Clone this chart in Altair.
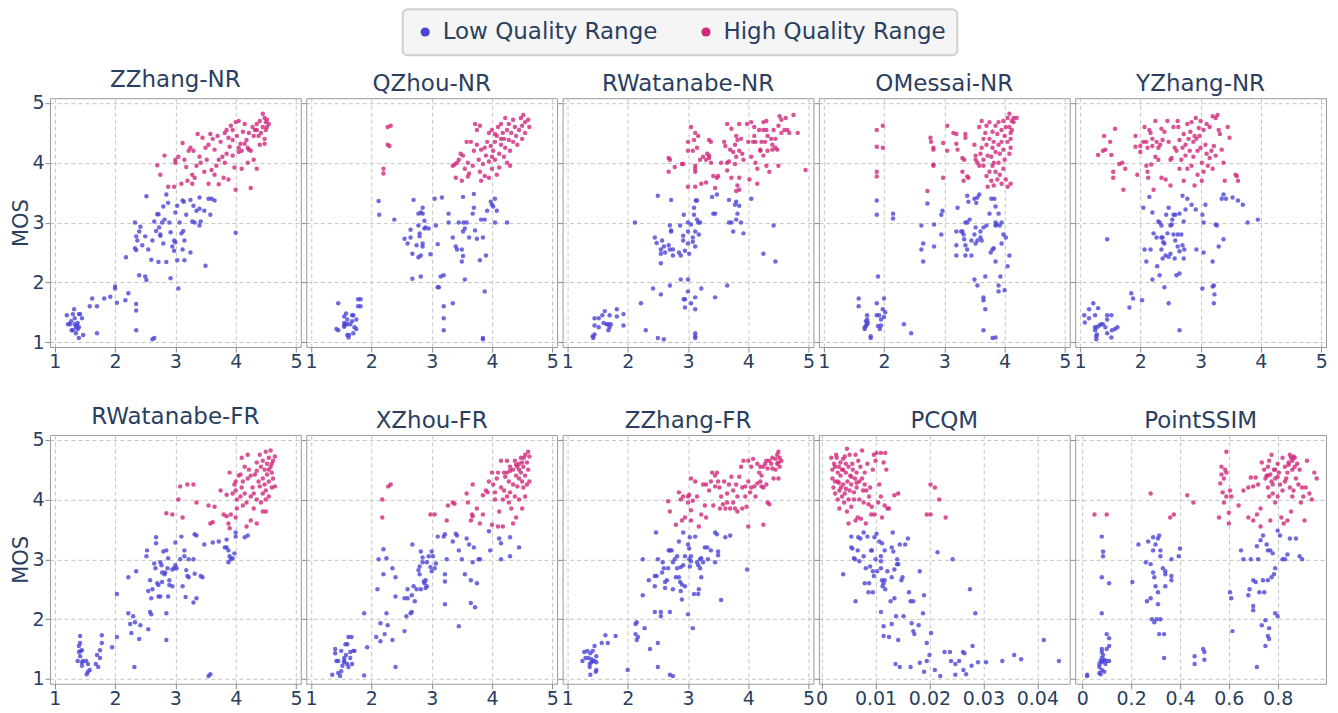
import altair as alt
import pandas as pd

LOW_LABEL = "Low Quality Range"
HIGH_LABEL = "High Quality Range"
BLUE = "#4B45D6"
PINK = "#D0287C"
TEXT = "#2a3f5f"
FONT = "DejaVu Sans"

MOS_TICKS = [1, 2, 3, 4, 5]
SCORE_TICKS = [1, 2, 3, 4, 5]
PCQM_TICKS = [0, 0.01, 0.02, 0.03, 0.04]
SSIM_TICKS = [0, 0.2, 0.4, 0.6, 0.8]

# ---------------- ZZhang-NR ----------------
ZZHANG_NR_LOW = [(1.2,1.45),(1.25,1.3),(1.27,1.35),(1.3,1.47),(1.32,1.55),(1.3,1.2),(1.33,1.3),(1.35,1.25),(1.37,1.28),(1.38,1.22),(1.4,1.47),(1.42,1.47),(1.45,1.4),(1.35,1.15),(1.4,1.07),(1.47,1.12),(1.28,1.2),(1.22,1.3),(1.33,1.4),(1.38,1.32),(1.4,1.25),
 (1.58,1.6),(1.62,1.73),(1.7,1.6),(1.7,1.15),(1.82,1.73),(1.92,1.76),(2.0,1.9),(2.0,1.93),(2.03,1.66),(2.17,1.7),(2.22,1.82),(2.35,1.64),(2.35,1.53),(2.35,1.2),(2.62,1.05),(2.65,1.07),(2.4,2.12),(2.5,2.1),(2.52,2.04),(2.18,2.42),(2.33,3.0),(2.35,2.77),(2.37,2.7),(2.33,2.57),(2.35,2.54),(2.4,2.85),(2.42,2.93),(2.45,2.62),(2.5,2.77),(2.52,3.44),(2.55,2.55),(2.6,2.38),(2.62,2.7),(2.65,3.02),(2.68,2.86),(2.7,3.14),(2.72,3.14),(2.73,2.92),(2.75,2.8),(2.75,2.78),(2.72,2.34),(2.8,3.27),(2.78,3.0),(2.8,2.65),(2.82,3.05),(2.85,2.34),(2.85,3.47),(2.88,3.33),(2.9,3.0),(2.92,2.07),(2.92,2.84),(2.95,2.6),(2.98,2.7),(2.98,2.53),(3.0,2.67),(3.0,3.17),(3.03,2.37),(3.03,3.28),(3.05,1.9),(3.07,3.0),(3.1,2.82),(3.12,3.37),(3.12,2.55),(3.14,3.35),(3.15,2.7),(3.15,2.37),(3.13,2.86),(3.18,3.13),(3.25,2.5),(3.25,3.38),(3.28,3.02),(3.3,3.28),(3.32,3.0),(3.35,3.2),(3.4,3.42),(3.4,3.23),(3.4,2.95),(3.42,3.02),(3.48,3.2),(3.5,2.28),(3.55,3.4),(3.58,3.13),(3.6,3.4),(3.65,3.37),(4.0,2.83)]
ZZHANG_NR_HIGH = [(2.7,3.96),(2.75,3.8),(2.82,4.12),(2.88,3.6),(2.98,3.6),(3.0,4.0),(3.0,4.05),(3.05,4.1),(3.1,3.65),(3.12,4.33),(3.15,4.05),(3.18,3.93),(3.2,3.7),(3.22,4.2),(3.25,4.25),(3.28,3.8),(3.3,4.2),(3.28,3.65),(3.32,3.75),(3.35,3.95),(3.37,4.48),(3.4,4.1),(3.42,4.0),(3.45,4.42),(3.48,3.85),(3.5,4.25),(3.52,4.05),(3.55,3.65),(3.55,4.3),(3.58,4.48),(3.6,3.88),(3.62,4.4),(3.65,3.8),(3.65,4.22),(3.68,3.95),(3.7,4.45),(3.72,4.05),(3.72,3.64),(3.75,4.35),(3.78,4.1),(3.8,3.75),(3.82,4.5),(3.82,4.0),(3.85,4.15),(3.88,3.72),(3.88,4.42),(3.9,4.27),(3.92,4.62),(3.95,4.38),(3.95,4.12),(3.98,3.92),(4.0,4.68),(4.0,3.55),(4.02,4.45),(4.05,4.18),(4.05,4.7),(4.08,4.32),(4.1,4.2),(4.1,3.9),(4.12,4.52),(4.15,4.65),(4.18,4.38),(4.2,4.25),(4.22,4.22),(4.22,4.5),(4.25,4.2),(4.25,3.58),(4.28,4.6),(4.3,4.45),(4.3,4.05),(4.32,4.55),(4.35,4.65),(4.35,3.9),(4.38,4.45),(4.4,4.7),(4.42,4.5),(4.45,4.82),(4.45,4.6),(4.48,4.75),(4.5,4.55),(4.5,4.68),(4.52,4.72),(4.52,4.6),(4.48,4.32),(4.55,4.65),(4.4,4.3),(4.2,4.0),(4.15,4.32),(4.05,4.25),(3.95,4.55),(3.85,4.55),(4.48,4.4),(4.35,4.55)]

# ---------------- QZhou-NR ----------------
QZHOU_NR_LOW = [(1.45,1.65),(1.42,1.22),(1.45,1.2),(1.55,1.43),(1.55,1.32),(1.57,1.3),(1.58,1.48),(1.55,1.28),(1.6,1.3),(1.6,1.38),(1.62,1.08),(1.63,1.12),(1.65,1.3),(1.68,1.35),(1.7,1.45),(1.7,1.15),(1.72,1.25),(1.75,1.22),(1.75,1.38),(1.78,1.72),(1.82,1.72),(1.78,1.6),(1.82,1.6),(1.68,1.45),(1.6,1.12),(1.55,1.26),
 (2.12,3.36),(2.13,3.13),(2.38,3.05),(2.55,2.73),(2.6,2.65),(2.65,2.88),(2.65,2.75),(2.68,2.48),(2.68,2.06),(2.7,3.38),(2.75,2.62),(2.78,2.95),(2.78,3.15),(2.78,2.42),(2.8,2.77),(2.8,2.82),(2.82,3.17),(2.82,2.1),(2.82,2.45),(2.85,3.25),(2.85,3.15),(2.85,2.65),(2.85,2.6),(2.88,3.03),(2.88,2.9),(2.9,2.92),(2.95,2.9),(2.98,2.47),(3.05,3.4),(3.07,2.95),(3.1,2.64),(3.1,1.92),(3.12,1.92),(3.15,2.1),(3.17,3.42),(3.2,2.12),(3.2,1.6),(3.2,1.4),(3.2,1.2),(3.28,3.15),(3.28,3.0),(3.35,1.65),(3.35,2.75),(3.4,2.6),(3.42,2.55),(3.45,3.0),(3.5,2.55),(3.5,2.35),(3.52,2.85),(3.52,2.44),(3.52,3.43),(3.53,3.0),(3.55,2.9),(3.55,2.05),(3.58,3.0),(3.62,2.75),(3.68,3.15),(3.7,3.48),(3.7,3.25),(3.72,2.87),(3.75,2.73),(3.8,2.37),(3.82,3.05),(3.85,2.75),(3.85,1.05),(3.85,1.07),(3.88,1.85),(3.88,3.05),(3.9,2.45),(3.92,3.2),(3.98,3.35),(4.0,3.3),(4.02,3.27),(4.05,3.0),(4.05,3.4),(4.08,3.2),(4.25,3.0)]
QZHOU_NR_HIGH = [(2.27,4.6),(2.32,4.62),(2.27,4.3),(2.3,4.28),(2.2,3.9),(2.2,3.82),(3.35,3.95),(3.38,3.97),(3.4,3.75),(3.42,4.0),(3.45,4.05),(3.48,4.15),(3.5,3.7),(3.52,4.12),(3.55,3.9),(3.58,4.35),(3.6,4.0),(3.6,3.77),(3.62,3.82),(3.65,4.35),(3.68,3.95),(3.7,4.2),(3.72,4.65),(3.75,4.55),(3.75,4.3),(3.78,4.05),(3.8,3.85),(3.8,4.62),(3.82,4.22),(3.82,3.7),(3.85,3.98),(3.88,4.25),(3.88,3.78),(3.9,4.12),(3.92,4.35),(3.95,4.02),(3.95,3.75),(3.98,4.28),(4.0,3.9),(4.0,4.55),(4.02,4.2),(4.05,4.35),(4.05,4.05),(4.08,3.8),(4.08,4.45),(4.1,4.6),(4.12,4.15),(4.12,3.92),(4.15,4.65),(4.15,4.3),(4.18,4.5),(4.2,4.1),(4.2,4.4),(4.22,4.75),(4.22,4.25),(4.25,4.55),(4.25,4.0),(4.28,4.38),(4.28,4.65),(4.3,3.95),(4.3,4.2),(4.32,4.5),(4.35,4.72),(4.35,4.35),(4.38,4.6),(4.4,4.45),(4.42,4.3),(4.45,4.55),(4.48,4.75),(4.5,4.62),(4.5,4.4),(4.52,4.8),(4.55,4.5),(4.55,4.68),(4.6,4.72),(4.62,4.6),(4.0,4.1),(4.15,4.4),(3.95,4.5),(4.05,4.48)]

# ---------------- RWatanabe-NR ----------------
RWATANABE_NR_LOW = [(1.42,1.1),(1.43,1.07),(1.45,1.13),(1.45,1.4),(1.45,1.28),(1.52,1.25),(1.52,1.4),(1.58,1.45),(1.6,1.32),(1.62,1.52),(1.65,1.3),(1.68,1.3),(1.7,1.25),(1.7,1.45),(1.68,1.2),(1.72,1.3),(1.82,1.43),(1.82,1.55),(1.93,1.47),(1.93,1.28),(2.22,1.65),(2.3,1.2),(2.5,1.07),(2.6,1.05),(2.12,3.0),(2.42,1.9),(2.45,2.75),(2.48,2.66),(2.5,3.45),(2.55,2.55),(2.57,2.7),(2.6,2.6),(2.62,2.5),(2.55,2.32),(2.55,2.48),(2.55,1.8),(2.68,2.62),(2.7,2.55),(2.7,2.95),(2.72,2.87),(2.72,2.85),(2.75,2.55),(2.75,2.45),(2.7,1.95),(2.72,3.38),(2.85,2.5),(2.87,2.95),(2.88,2.45),(2.88,2.05),(2.92,2.7),(2.92,2.78),(2.93,3.13),(2.95,2.53),(2.93,1.72),(2.95,1.72),(2.95,1.58),(3.0,3.0),(3.0,2.85),(3.0,2.65),(3.02,2.48),(3.0,2.05),(3.0,1.85),(3.05,2.97),(3.05,1.65),(3.08,2.68),(3.08,2.75),(3.1,3.25),(3.1,3.13),(3.12,2.85),(3.12,2.6),(3.13,3.37),(3.12,1.1),(3.12,1.07),(3.12,1.15),(3.12,1.75),(3.12,1.55),(3.15,3.05),(3.15,3.37),(3.17,3.0),(3.18,2.8),(3.2,3.0),(3.22,1.9),(3.4,3.43),(3.42,3.15),(3.45,3.15),(3.45,1.75),(3.48,3.47),(3.65,1.95),(3.68,3.0),(3.68,3.38),(3.72,3.0),(3.75,2.85),(3.78,3.3),(3.8,3.35),(3.8,3.05),(3.82,3.15),(3.85,3.28),(3.88,3.0),(3.92,2.82),(4.05,3.4),(4.25,2.48),(4.42,2.95),(4.45,2.35)]
RWATANABE_NR_HIGH = [(2.68,4.08),(2.7,4.05),(2.68,3.85),(2.78,3.93),(2.9,3.98),(2.92,3.98),(3.0,4.2),(3.0,4.35),(3.0,3.6),(3.05,4.6),(3.08,4.2),(3.1,4.38),(3.12,3.95),(3.12,3.9),(3.12,3.85),(3.12,3.6),(3.12,4.5),(3.15,4.25),(3.17,4.45),(3.2,4.05),(3.22,3.65),(3.25,4.1),(3.3,4.05),(3.3,3.67),(3.32,4.15),(3.35,4.08),(3.35,4.38),(3.35,4.12),(3.38,4.35),(3.38,4.0),(3.42,3.78),(3.45,3.58),(3.48,3.75),(3.5,3.78),(3.55,4.0),(3.6,4.35),(3.62,4.28),(3.65,4.65),(3.65,4.0),(3.65,3.87),(3.68,4.02),(3.7,4.22),(3.72,3.75),(3.72,4.57),(3.75,4.18),(3.78,4.3),(3.78,3.98),(3.8,4.45),(3.8,4.1),(3.8,3.53),(3.82,3.62),(3.82,4.38),(3.85,4.2),(3.85,3.75),(3.85,3.55),(3.85,4.65),(3.88,4.4),(3.9,4.15),(3.92,4.05),(3.98,4.65),(4.0,4.35),(4.02,3.72),(4.05,4.68),(4.05,4.1),(4.08,4.35),(4.1,4.6),(4.12,4.0),(4.12,4.35),(4.15,3.9),(4.15,3.65),(4.18,4.55),(4.2,4.2),(4.2,4.22),(4.22,4.35),(4.25,4.55),(4.25,4.68),(4.25,4.12),(4.28,4.35),(4.3,3.95),(4.3,4.7),(4.32,4.45),(4.32,4.2),(4.35,3.85),(4.38,4.4),(4.4,4.22),(4.4,4.3),(4.42,4.55),(4.45,4.4),(4.48,4.22),(4.5,4.62),(4.5,3.95),(4.52,4.78),(4.55,4.5),(4.55,4.72),(4.6,4.55),(4.62,4.75),(4.65,4.55),(4.68,4.5),(4.75,4.8),(4.82,4.5),(4.95,3.88),(4.1,4.45),(4.3,4.55),(4.45,4.25)]

# ---------------- OMessai-NR ----------------
OMESSAI_NR_LOW = [(1.58,1.73),(1.58,1.6),(1.68,1.25),(1.68,1.22),(1.7,1.35),(1.7,1.27),(1.72,1.3),(1.72,1.45),(1.72,1.38),(1.73,1.33),(1.78,1.1),(1.78,1.07),(1.88,1.65),(1.88,1.45),(1.9,1.27),(1.9,2.1),(1.92,1.45),(1.93,1.22),(1.95,1.28),(1.95,1.38),(1.98,1.55),(2.0,1.73),(2.0,1.42),(2.02,1.5),(1.88,3.13),(1.88,3.37),(2.15,3.15),(2.15,3.07),(2.33,1.3),(2.45,1.15),(2.62,2.95),(2.65,2.65),(2.62,2.55),(2.65,2.35),(2.72,3.32),(2.83,2.97),(2.83,2.6),(2.95,3.13),(2.97,3.2),(2.95,2.8),(3.2,2.85),(3.2,2.62),(3.2,2.45),(3.22,3.25),(3.28,2.85),(3.3,2.85),(3.32,2.8),(3.33,2.72),(3.35,3.0),(3.35,2.62),(3.35,2.45),(3.38,3.0),(3.38,3.45),(3.38,2.55),(3.4,3.35),(3.42,3.05),(3.45,2.7),(3.45,2.45),(3.5,3.4),(3.5,2.8),(3.5,2.05),(3.52,2.65),(3.52,2.92),(3.53,3.33),(3.55,2.7),(3.55,1.95),(3.55,3.42),(3.58,3.47),(3.6,2.75),(3.6,2.85),(3.62,2.7),(3.65,2.92),(3.65,1.75),(3.65,1.7),(3.65,1.2),(3.68,2.1),(3.68,1.55),(3.75,3.15),(3.77,2.5),(3.78,3.4),(3.8,2.55),(3.8,1.07),(3.82,2.57),(3.83,3.4),(3.85,3.0),(3.85,2.95),(3.85,2.35),(3.85,1.08),(3.85,3.27),(3.87,2.97),(3.9,3.15),(3.9,1.95),(3.9,1.85),(3.92,2.95),(3.93,2.1),(3.95,3.0),(3.95,2.65),(3.98,2.8),(4.0,1.87),(4.02,2.75),(4.05,2.27),(4.08,2.45),(3.7,2.95)]
OMESSAI_NR_HIGH = [(1.88,4.55),(1.88,4.27),(1.88,3.85),(1.88,3.77),(1.98,4.62),(1.98,4.25),(2.72,3.53),(2.77,4.42),(2.78,4.35),(2.82,4.22),(2.82,4.25),(2.82,3.95),(2.82,3.97),(2.98,3.75),(2.98,4.33),(3.05,4.62),(3.05,4.2),(3.15,4.5),(3.2,4.32),(3.2,4.48),(3.22,4.22),(3.3,4.08),(3.3,3.85),(3.32,3.7),(3.33,4.05),(3.35,4.48),(3.35,4.42),(3.38,3.77),(3.4,3.75),(3.5,4.3),(3.52,4.12),(3.52,4.05),(3.55,4.0),(3.58,4.6),(3.58,3.95),(3.6,4.15),(3.62,4.7),(3.62,4.25),(3.65,4.4),(3.65,4.05),(3.65,3.95),(3.68,4.5),(3.7,4.62),(3.7,4.3),(3.7,3.78),(3.72,4.12),(3.72,3.6),(3.75,4.4),(3.75,4.68),(3.75,3.85),(3.78,4.1),(3.78,3.7),(3.8,4.52),(3.8,4.25),(3.8,3.95),(3.82,4.35),(3.82,4.0),(3.82,3.62),(3.85,4.62),(3.85,4.18),(3.85,3.85),(3.88,4.48),(3.88,3.72),(3.9,4.68),(3.9,4.3),(3.9,4.0),(3.92,4.15),(3.92,3.8),(3.95,4.55),(3.95,4.35),(3.95,3.65),(3.98,4.7),(3.98,4.22),(3.98,3.9),(4.0,4.45),(4.0,4.05),(4.02,3.72),(4.02,4.6),(4.05,4.75),(4.05,4.35),(4.05,3.6),(4.08,4.6),(4.08,4.82),(4.08,4.15),(4.1,4.5),(4.1,3.65),(4.12,4.7),(4.12,4.55),(4.15,4.68),(4.15,4.75),(4.2,4.75),(4.1,4.4),(4.1,4.25)]

# ---------------- YZhang-NR ----------------
YZHANG_NR_LOW = [(1.07,1.45),(1.08,1.33),(1.15,1.55),(1.15,1.4),(1.22,1.65),(1.25,1.45),(1.25,1.25),(1.25,1.2),(1.27,1.05),(1.27,1.1),(1.28,1.13),(1.28,1.25),(1.3,1.57),(1.32,1.28),(1.35,1.3),(1.38,1.3),(1.42,1.25),(1.45,1.45),(1.45,1.38),(1.45,1.15),(1.45,2.72),(1.52,1.45),(1.52,1.08),(1.53,1.2),(1.58,1.22),(1.62,1.25),(1.82,1.58),(1.85,1.82),(1.88,1.73),(2.03,1.7),(2.05,3.25),(2.07,2.55),(2.1,2.35),(2.15,3.43),(2.17,2.55),(2.2,2.05),(2.2,3.17),(2.22,2.82),(2.27,2.75),(2.28,2.27),(2.3,3.02),(2.32,3.0),(2.32,2.12),(2.35,2.75),(2.35,2.95),(2.35,2.55),(2.37,2.75),(2.37,2.4),(2.38,2.67),(2.4,2.65),(2.4,1.92),(2.42,2.45),(2.43,3.13),(2.45,2.82),(2.47,3.25),(2.47,2.43),(2.47,1.65),(2.5,2.95),(2.5,2.48),(2.52,2.97),(2.53,3.05),(2.55,3.13),(2.55,2.8),(2.57,2.4),(2.58,2.7),(2.58,3.13),(2.6,2.12),(2.62,2.8),(2.62,2.6),(2.65,3.15),(2.65,2.52),(2.65,2.15),(2.65,1.2),(2.68,2.8),(2.7,3.45),(2.7,2.62),(2.72,3.02),(2.72,2.4),(2.73,2.55),(2.75,3.22),(2.78,3.4),(2.85,3.3),(2.92,3.22),(2.93,2.55),(3.03,3.13),(3.05,3.0),(3.05,2.5),(3.03,1.9),(3.08,3.3),(3.2,2.35),(3.2,1.93),(3.22,1.65),(3.22,1.95),(3.23,1.8),(3.25,2.97),(3.27,2.95),(3.3,2.6),(3.38,3.47),(3.38,2.72),(3.35,3.4),(3.42,3.4),(3.53,3.42),(3.62,3.37),(3.7,3.3),(3.78,3.0),(3.95,3.05)]
YZHANG_NR_HIGH = [(1.3,4.13),(1.38,4.2),(1.4,4.45),(1.42,4.22),(1.5,4.35),(1.52,4.13),(1.55,3.85),(1.55,3.75),(1.58,4.57),(1.65,3.98),(1.7,4.0),(1.72,3.55),(1.75,3.9),(1.92,4.45),(1.92,4.27),(1.95,3.8),(2.0,4.28),(2.0,4.18),(2.05,4.35),(2.07,4.6),(2.1,4.35),(2.1,3.95),(2.12,4.25),(2.12,3.85),(2.13,3.75),(2.15,4.55),(2.17,4.5),(2.18,3.97),(2.2,4.4),(2.2,4.28),(2.22,3.55),(2.25,4.7),(2.25,4.1),(2.27,4.35),(2.3,4.25),(2.3,4.05),(2.33,4.3),(2.35,4.57),(2.35,3.75),(2.37,4.38),(2.4,4.52),(2.42,3.72),(2.45,4.7),(2.47,4.35),(2.5,4.05),(2.5,3.62),(2.52,4.08),(2.55,4.6),(2.57,4.25),(2.6,4.2),(2.62,4.7),(2.63,4.6),(2.65,4.38),(2.65,3.9),(2.68,4.05),(2.7,4.25),(2.72,4.48),(2.72,3.7),(2.75,4.3),(2.75,4.12),(2.78,4.65),(2.78,3.9),(2.8,4.4),(2.82,4.2),(2.83,4.52),(2.85,4.68),(2.85,3.95),(2.88,4.35),(2.88,4.1),(2.9,4.45),(2.9,3.62),(2.92,4.75),(2.93,4.4),(2.95,4.2),(2.95,3.8),(2.97,4.58),(2.98,4.45),(3.0,4.7),(3.0,4.25),(3.02,4.0),(3.02,3.7),(3.05,4.55),(3.05,3.85),(3.08,4.3),(3.1,4.65),(3.1,4.15),(3.12,3.95),(3.15,4.6),(3.15,4.08),(3.18,4.2),(3.2,4.78),(3.2,3.9),(3.22,4.28),(3.25,4.75),(3.25,4.12),(3.28,4.8),(3.3,4.55),(3.32,4.48),(3.35,4.22),(3.38,4.0),(3.4,3.7),(3.45,4.6),(3.48,4.42),(3.58,3.8),(3.6,3.78),(3.62,3.7)]

# ---------------- RWatanabe-FR ----------------
RWATANABE_FR_LOW = [(1.38,1.3),(1.4,1.55),(1.4,1.45),(1.42,1.6),(1.42,1.72),(1.43,1.47),(1.42,1.38),(1.45,1.28),(1.45,1.22),(1.45,1.48),(1.47,1.3),(1.52,1.3),(1.53,1.08),(1.55,1.25),(1.55,1.12),(1.58,1.15),(1.68,1.25),(1.7,1.4),(1.72,1.2),(1.75,1.35),(1.75,1.48),(1.78,1.6),(1.78,1.73),(1.95,1.53),(2.03,1.7),(2.03,2.42),(2.22,2.1),(2.22,2.7),(2.25,1.92),(2.27,1.77),(2.3,2.05),(2.33,1.95),(2.32,1.2),(2.35,2.8),(2.42,1.9),(2.4,1.67),(2.52,3.05),(2.53,3.15),(2.55,2.47),(2.55,1.83),(2.58,2.12),(2.58,2.65),(2.6,2.08),(2.6,2.35),(2.62,2.5),(2.65,2.93),(2.67,2.85),(2.68,3.27),(2.68,3.37),(2.7,2.6),(2.72,2.57),(2.72,2.38),(2.75,2.95),(2.75,2.38),(2.77,2.9),(2.78,2.62),(2.78,2.78),(2.8,3.13),(2.82,2.75),(2.83,2.78),(2.85,3.15),(2.85,2.1),(2.85,1.65),(2.87,2.85),(2.88,2.38),(2.88,3.02),(2.9,2.57),(2.9,2.65),(2.95,2.55),(2.95,2.83),(2.98,2.85),(3.0,3.28),(3.0,2.9),(3.02,2.85),(3.08,3.0),(3.1,3.38),(3.12,2.55),(3.15,3.05),(3.15,3.15),(3.17,2.37),(3.18,2.82),(3.2,2.72),(3.22,3.0),(3.22,2.7),(3.3,2.28),(3.3,3.0),(3.32,3.42),(3.35,3.4),(3.35,2.35),(3.32,2.76),(3.42,2.72),(3.45,2.7),(3.48,3.25),(3.55,1.05),(3.58,1.08),(3.72,3.3),(3.82,3.2),(3.85,3.2),(3.88,3.15),(3.85,3.33),(3.88,2.95),(3.9,3.05),(3.92,3.0),(3.95,3.02),(3.98,3.1),(4.0,3.45),(4.0,3.38),(4.15,3.37),(4.2,3.4),(3.62,3.28)]
RWATANABE_FR_HIGH = [(2.85,3.77),(2.95,3.75),(3.05,4.0),(3.08,4.22),(3.12,3.7),(3.2,4.25),(3.3,4.25),(3.35,3.95),(3.55,3.9),(3.58,3.6),(3.62,3.62),(3.65,3.88),(3.75,4.15),(3.8,3.75),(3.85,3.72),(3.85,4.08),(3.88,3.6),(3.9,3.52),(3.9,4.45),(3.92,3.75),(3.95,4.1),(3.98,4.25),(4.0,3.7),(4.0,4.15),(4.02,4.0),(4.02,3.85),(4.05,4.4),(4.08,4.42),(4.08,4.05),(4.1,4.7),(4.1,4.2),(4.12,3.9),(4.15,4.55),(4.15,4.1),(4.18,3.55),(4.18,3.95),(4.2,4.75),(4.2,4.35),(4.22,4.5),(4.25,3.65),(4.25,4.05),(4.28,4.2),(4.3,3.85),(4.32,4.42),(4.35,4.62),(4.35,4.0),(4.35,3.6),(4.38,4.3),(4.4,4.75),(4.4,4.22),(4.42,3.95),(4.42,4.55),(4.45,4.65),(4.45,4.35),(4.45,3.8),(4.48,4.5),(4.5,4.8),(4.5,4.15),(4.5,3.8),(4.52,4.42),(4.52,4.6),(4.55,4.7),(4.55,4.3),(4.55,4.05),(4.58,4.55),(4.58,4.82),(4.6,4.45),(4.6,4.2),(4.62,4.65),(4.62,4.35),(4.65,4.72),(4.65,4.22),(4.48,4.25),(4.55,4.5),(4.5,4.0),(4.45,4.1),(4.6,4.6),(4.35,4.48),(4.25,4.4),(4.3,4.1),(4.0,4.3),(4.12,4.3)]

# ---------------- XZhou-FR ----------------
XZHOU_FR_LOW = [(1.35,1.07),(1.4,1.5),(1.4,1.43),(1.42,1.3),(1.45,1.3),(1.45,1.1),(1.48,1.05),(1.5,1.13),(1.5,1.47),(1.52,1.22),(1.55,1.35),(1.55,1.28),(1.55,1.3),(1.57,1.58),(1.58,1.4),(1.6,1.25),(1.6,1.58),(1.62,1.7),(1.62,1.2),(1.65,1.35),(1.65,1.45),(1.67,1.7),(1.68,1.25),(1.7,1.47),(1.72,1.47),(1.88,1.06),(1.88,2.1),(1.93,1.53),(2.08,1.7),(2.1,2.5),(2.12,3.0),(2.15,1.93),(2.15,1.63),(2.2,3.17),(2.2,2.75),(2.22,1.75),(2.25,3.02),(2.25,2.1),(2.27,1.9),(2.35,2.85),(2.35,1.65),(2.4,2.7),(2.4,2.38),(2.4,1.2),(2.55,2.35),(2.55,1.8),(2.58,2.05),(2.6,2.5),(2.6,2.35),(2.65,2.1),(2.67,2.4),(2.67,2.12),(2.68,3.25),(2.7,2.55),(2.72,2.3),(2.75,2.5),(2.78,2.82),(2.8,2.75),(2.8,2.88),(2.82,2.5),(2.82,3.13),(2.85,2.95),(2.85,3.03),(2.87,2.63),(2.88,2.6),(2.9,2.65),(2.9,2.52),(2.92,2.55),(2.92,2.95),(2.95,3.05),(2.98,2.87),(3.0,3.13),(3.0,2.8),(3.02,3.05),(3.05,2.85),(3.07,2.93),(3.1,3.38),(3.2,3.38),(3.22,3.42),(3.22,2.75),(3.22,2.63),(3.22,2.25),(3.25,3.0),(3.35,3.3),(3.4,3.43),(3.42,3.4),(3.45,3.15),(3.45,1.88),(3.5,3.0),(3.55,2.75),(3.58,3.35),(3.62,3.25),(3.65,2.65),(3.65,2.27),(3.68,2.95),(3.7,3.2),(3.72,2.2),(3.75,2.6),(3.78,3.0),(3.8,3.0),(3.95,3.47),(3.97,3.15),(4.12,3.35),(4.15,3.27),(4.15,3.0),(4.3,3.05),(4.3,3.37),(4.45,3.2)]
XZHOU_FR_HIGH = [(2.18,3.7),(2.18,4.0),(2.28,4.22),(2.32,4.25),(2.98,3.75),(3.05,3.75),(3.25,3.65),(3.27,3.9),(3.35,3.95),(3.38,3.93),(3.58,4.1),(3.6,3.95),(3.65,3.65),(3.67,3.75),(3.68,3.72),(3.68,4.25),(3.75,3.85),(3.8,3.6),(3.85,3.75),(3.85,4.07),(3.9,4.15),(3.93,4.12),(3.95,4.3),(4.0,3.58),(4.0,4.45),(4.02,4.25),(4.05,4.0),(4.05,4.12),(4.08,4.35),(4.1,4.45),(4.1,3.55),(4.12,3.8),(4.15,4.2),(4.15,4.65),(4.18,4.0),(4.18,3.55),(4.2,4.45),(4.2,4.15),(4.22,4.38),(4.25,4.05),(4.25,4.65),(4.28,3.95),(4.28,4.3),(4.3,4.55),(4.3,4.12),(4.32,3.85),(4.35,4.5),(4.35,4.25),(4.35,3.6),(4.38,4.65),(4.38,4.05),(4.4,4.4),(4.4,3.7),(4.42,4.22),(4.42,4.55),(4.45,4.6),(4.45,4.35),(4.45,4.0),(4.48,4.7),(4.48,4.45),(4.5,4.3),(4.5,3.85),(4.5,4.62),(4.52,4.55),(4.52,4.2),(4.55,4.75),(4.55,4.4),(4.55,4.05),(4.58,4.62),(4.58,4.25),(4.6,4.8),(4.6,4.5),(4.62,4.72),(4.62,4.3),(4.53,4.7),(4.45,4.5),(4.4,4.58),(4.25,4.45),(4.3,4.48)]

# ---------------- ZZhang-FR ----------------
ZZHANG_FR_LOW = [(1.25,1.3),(1.28,1.45),(1.3,1.35),(1.33,1.47),(1.35,1.35),(1.37,1.2),(1.37,1.25),(1.38,1.07),(1.38,1.43),(1.4,1.28),(1.4,1.33),(1.42,1.3),(1.42,1.47),(1.45,1.3),(1.45,1.55),(1.47,1.12),(1.48,1.38),(1.48,1.15),(1.48,1.28),(1.57,1.6),(1.63,1.73),(1.67,1.6),(1.8,1.72),(2.0,1.15),(2.13,1.75),(2.13,1.92),(2.15,1.95),(2.15,1.65),(2.17,1.7),(2.25,3.0),(2.25,2.4),(2.28,1.85),(2.35,2.65),(2.37,1.5),(2.45,2.72),(2.45,2.55),(2.45,2.12),(2.47,3.45),(2.48,2.72),(2.5,3.0),(2.5,1.6),(2.5,1.2),(2.55,2.05),(2.55,2.12),(2.57,2.78),(2.58,2.95),(2.6,2.85),(2.62,2.62),(2.62,2.52),(2.65,2.65),(2.67,2.85),(2.68,3.15),(2.7,3.15),(2.7,2.12),(2.7,1.07),(2.73,3.15),(2.75,2.95),(2.75,1.05),(2.75,2.5),(2.78,3.0),(2.8,2.7),(2.82,2.85),(2.82,3.05),(2.85,3.3),(2.85,2.7),(2.87,2.62),(2.88,2.87),(2.88,2.47),(2.9,2.58),(2.9,2.33),(2.92,2.9),(2.92,3.45),(2.95,2.55),(2.95,3.05),(3.0,2.08),(3.0,3.25),(3.02,3.18),(3.02,3.0),(3.03,2.88),(3.03,3.37),(3.05,3.05),(3.05,2.97),(3.08,1.85),(3.1,2.42),(3.12,3.38),(3.15,2.95),(3.17,2.9),(3.17,2.42),(3.18,2.5),(3.2,3.0),(3.2,2.85),(3.22,3.02),(3.22,2.7),(3.25,2.95),(3.28,3.2),(3.32,3.2),(3.33,3.0),(3.38,3.15),(3.45,3.45),(3.45,2.95),(3.48,3.42),(3.5,3.13),(3.5,3.07),(3.55,2.32),(3.62,3.37),(3.7,3.4),(3.98,2.83)]
ZZHANG_FR_HIGH = [(2.67,3.97),(2.7,3.8),(2.8,3.58),(2.85,4.12),(2.88,4.0),(2.9,3.65),(2.92,4.05),(2.95,3.7),(3.0,4.05),(3.0,3.95),(3.02,4.08),(3.05,3.82),(3.05,3.65),(3.05,4.35),(3.08,3.98),(3.12,4.3),(3.15,4.05),(3.18,3.55),(3.22,3.75),(3.25,4.25),(3.28,3.9),(3.3,4.25),(3.3,3.7),(3.35,4.15),(3.38,4.3),(3.4,4.45),(3.42,3.9),(3.45,4.22),(3.45,4.4),(3.48,4.45),(3.5,4.3),(3.52,4.2),(3.53,3.85),(3.55,4.05),(3.58,3.92),(3.6,4.3),(3.62,3.85),(3.65,4.1),(3.65,3.95),(3.68,4.25),(3.7,3.85),(3.72,4.38),(3.75,3.95),(3.75,4.15),(3.78,3.85),(3.8,4.25),(3.82,4.05),(3.82,3.8),(3.85,4.38),(3.88,4.55),(3.9,4.2),(3.9,3.85),(3.92,4.65),(3.95,4.05),(3.95,4.22),(3.97,3.88),(4.0,4.65),(4.0,4.3),(4.0,3.55),(4.03,4.12),(4.05,4.55),(4.05,4.2),(4.08,4.68),(4.1,4.22),(4.12,4.05),(4.15,4.6),(4.15,4.27),(4.18,4.45),(4.2,4.55),(4.22,4.4),(4.22,4.22),(4.25,4.55),(4.25,4.2),(4.25,3.58),(4.28,4.6),(4.3,4.25),(4.32,4.52),(4.32,3.95),(4.35,4.65),(4.35,3.92),(4.38,4.6),(4.4,4.7),(4.42,4.35),(4.45,4.68),(4.45,4.5),(4.48,4.75),(4.48,4.6),(4.5,4.8),(4.5,4.62),(4.52,4.7),(4.52,4.55),(4.55,4.65),(4.5,4.35),(4.4,4.52),(4.3,4.65),(4.2,4.3)]

# ---------------- PCQM ----------------
PCQM_LOW = [(0.004,2.75),(0.0055,3.38),(0.0055,3.2),(0.0057,3.18),(0.006,3.02),(0.0062,3.0),(0.0063,2.3),(0.0067,3.15),(0.0068,3.37),(0.007,2.97),(0.0072,3.35),(0.0078,3.45),(0.0078,3.05),(0.008,2.6),(0.0082,2.85),(0.0085,3.38),(0.0087,2.45),(0.0088,2.6),(0.009,2.88),(0.0092,3.15),(0.0093,3.15),(0.0095,2.8),(0.0095,2.45),(0.0097,2.72),(0.0098,3.37),(0.01,3.0),(0.0102,3.43),(0.0103,2.8),(0.0107,3.3),(0.011,3.05),(0.011,2.97),(0.011,2.85),(0.011,2.12),(0.0112,2.65),(0.0112,3.27),(0.0113,2.55),(0.0115,2.6),(0.0115,1.88),(0.0115,1.72),(0.0117,3.15),(0.0117,2.65),(0.0118,2.5),(0.0122,2.8),(0.0125,1.7),(0.0128,2.3),(0.013,2.7),(0.013,3.2),(0.0132,3.45),(0.013,1.92),(0.0133,3.13),(0.0135,2.83),(0.0135,2.35),(0.0137,1.25),(0.0138,2.05),(0.014,3.0),(0.014,2.92),(0.0142,2.92),(0.0142,1.65),(0.0145,3.25),(0.0145,1.2),(0.0148,2.65),(0.015,2.7),(0.0152,2.05),(0.0155,3.25),(0.016,3.35),(0.0162,2.45),(0.0165,2.3),(0.0165,1.2),(0.0167,1.93),(0.017,1.8),(0.017,2.3),(0.0172,1.75),(0.018,1.9),(0.0182,2.8),(0.0182,1.27),(0.0188,2.1),(0.019,2.4),(0.019,1.12),(0.0195,1.6),(0.0195,1.3),(0.02,1.4),(0.0203,1.77),(0.021,1.15),(0.0215,3.12),(0.022,1.05),(0.0228,1.45),(0.0238,1.45),(0.024,1.3),(0.0243,3.0),(0.0248,1.25),(0.0248,1.07),(0.0255,1.3),(0.0262,1.45),(0.0265,1.43),(0.0263,1.15),(0.0268,1.08),(0.0275,2.5),(0.0278,1.22),(0.028,1.55),(0.0285,2.1),(0.029,1.28),(0.0305,1.28),(0.0335,1.3),(0.0357,1.4),(0.037,1.33),(0.0412,1.65),(0.044,1.3)]
PCQM_HIGH = [(0.0018,4.7),(0.002,4.5),(0.002,4.35),(0.0022,4.2),(0.0023,4.6),(0.0025,4.3),(0.0025,4.1),(0.0027,4.75),(0.0028,4.7),(0.003,4.45),(0.003,4.0),(0.003,4.3),(0.0032,4.55),(0.0033,4.15),(0.0033,3.85),(0.0035,4.62),(0.0035,4.4),(0.0036,4.2),(0.0038,4.05),(0.004,4.68),(0.004,4.5),(0.004,4.25),(0.0042,3.95),(0.0043,4.72),(0.0043,4.1),(0.0045,4.45),(0.0045,4.6),(0.0047,3.8),(0.0047,4.85),(0.0048,4.3),(0.005,4.0),(0.005,4.55),(0.005,3.6),(0.0052,4.15),(0.0052,4.75),(0.0053,4.4),(0.0055,3.88),(0.0055,4.25),(0.0057,4.6),(0.0058,4.5),(0.006,4.12),(0.006,4.0),(0.0062,4.35),(0.0063,4.75),(0.0063,3.65),(0.0065,4.2),(0.0065,4.45),(0.0067,3.7),(0.0068,4.65),(0.007,4.3),(0.007,4.0),(0.0072,4.55),(0.0073,3.68),(0.0075,4.35),(0.0075,4.82),(0.0077,4.15),(0.0078,3.95),(0.008,4.45),(0.008,4.25),(0.0082,3.6),(0.0083,4.15),(0.0085,4.6),(0.0087,3.92),(0.0088,4.05),(0.009,4.2),(0.0092,3.75),(0.0093,3.88),(0.0095,4.5),(0.0097,4.75),(0.0098,3.75),(0.01,4.65),(0.0102,4.78),(0.0105,3.95),(0.0107,4.25),(0.011,4.05),(0.011,4.78),(0.0112,3.7),(0.0115,4.62),(0.0117,3.9),(0.0118,4.78),(0.012,4.5),(0.0122,3.85),(0.0125,3.85),(0.0135,4.07),(0.0142,4.1),(0.0202,4.25),(0.021,4.2),(0.0218,4.0),(0.0195,3.75),(0.0202,3.75),(0.023,3.7),(0.0025,4.55),(0.0032,4.28),(0.0055,4.38),(0.0045,4.18),(0.0065,4.28),(0.0038,4.5)]

# ---------------- PointSSIM ----------------
POINTSSIM_LOW = [(0.02,1.07),(0.02,1.05),(0.07,1.1),(0.07,1.2),(0.07,1.25),(0.075,1.3),(0.075,1.08),(0.08,1.15),(0.08,1.35),(0.08,1.28),(0.08,1.45),(0.08,1.5),(0.085,1.4),(0.085,1.3),(0.09,1.12),(0.09,1.32),(0.095,1.25),(0.1,1.5),(0.1,1.75),(0.1,1.3),(0.11,1.55),(0.11,1.68),(0.11,1.3),(0.08,2.1),(0.08,2.7),(0.08,3.38),(0.085,3.13),(0.085,3.05),(0.11,2.6),(0.205,2.62),(0.23,3.25),(0.26,2.95),(0.265,2.3),(0.27,3.3),(0.28,2.92),(0.28,2.35),(0.285,2.0),(0.29,3.37),(0.29,3.15),(0.29,2.78),(0.295,2.7),(0.295,1.95),(0.3,3.25),(0.3,2.55),(0.305,2.0),(0.31,3.35),(0.31,2.45),(0.31,2.25),(0.315,3.4),(0.315,1.75),(0.32,3.15),(0.32,3.05),(0.32,2.0),(0.33,2.85),(0.335,1.75),(0.34,2.8),(0.34,2.75),(0.34,2.55),(0.335,1.35),(0.365,2.72),(0.365,2.65),(0.365,3.0),(0.395,3.05),(0.4,3.18),(0.46,1.38),(0.46,1.25),(0.495,1.5),(0.5,1.32),(0.5,1.45),(0.605,2.45),(0.61,2.35),(0.615,1.8),(0.65,3.15),(0.66,3.0),(0.68,2.4),(0.685,2.5),(0.69,3.0),(0.7,2.65),(0.7,2.22),(0.7,2.15),(0.71,2.62),(0.715,3.22),(0.715,1.2),(0.72,3.0),(0.725,2.45),(0.73,3.32),(0.735,1.9),(0.74,3.4),(0.74,2.65),(0.745,2.45),(0.75,1.98),(0.75,1.55),(0.755,3.25),(0.76,3.15),(0.76,2.65),(0.76,1.72),(0.765,1.67),(0.765,1.85),(0.77,3.15),(0.775,2.7),(0.78,3.1),(0.785,2.75),(0.79,2.85),(0.79,2.1),(0.8,2.05),(0.8,3.48),(0.81,3.4),(0.82,3.0),(0.83,3.0),(0.84,3.08),(0.85,3.35),(0.875,3.35),(0.89,3.05),(0.9,3.0)]
POINTSSIM_HIGH = [(0.05,3.75),(0.1,3.75),(0.28,4.1),(0.36,3.7),(0.375,3.75),(0.43,4.07),(0.455,3.95),(0.56,3.7),(0.565,4.27),(0.57,4.42),(0.57,4.55),(0.575,4.12),(0.58,3.95),(0.58,4.35),(0.585,4.5),(0.59,4.45),(0.59,4.05),(0.59,4.8),(0.6,3.78),(0.6,3.6),(0.605,4.15),(0.61,4.05),(0.64,3.9),(0.66,4.15),(0.68,4.2),(0.68,3.7),(0.69,4.37),(0.7,4.22),(0.7,3.65),(0.71,4.37),(0.715,3.75),(0.72,4.25),(0.73,3.85),(0.73,3.55),(0.735,4.62),(0.745,4.5),(0.75,4.35),(0.755,4.4),(0.76,4.55),(0.76,4.2),(0.765,4.65),(0.765,4.05),(0.77,4.42),(0.77,3.65),(0.775,4.75),(0.78,4.25),(0.78,4.1),(0.785,4.5),(0.79,3.95),(0.79,4.35),(0.8,4.05),(0.8,4.6),(0.805,4.45),(0.81,4.25),(0.815,3.7),(0.82,4.15),(0.82,4.7),(0.825,3.6),(0.83,4.55),(0.835,4.35),(0.84,3.65),(0.84,4.45),(0.845,4.62),(0.85,4.2),(0.85,4.75),(0.855,3.8),(0.86,4.5),(0.86,4.65),(0.86,4.05),(0.865,4.15),(0.87,4.55),(0.875,4.35),(0.88,4.6),(0.885,4.25),(0.89,4.5),(0.895,3.95),(0.9,4.2),(0.905,4.05),(0.91,3.65),(0.915,4.2),(0.92,4.65),(0.93,4.1),(0.94,4.0),(0.95,4.45),(0.96,4.35),(0.855,4.7),(0.845,4.58),(0.865,4.72),(0.79,4.5),(0.775,4.3),(0.8,4.38),(0.83,4.3),(0.76,4.4),(0.87,4.7)]

MOS_DOMAIN = [0.92, 5.08]
SCORE_DOMAIN = [0.92, 5.08]
PCQM_DOMAIN = [-0.0005, 0.046]
SSIM_DOMAIN = [-0.029, 0.998]

PANELS = [
    ("ZZhang-NR", ZZHANG_NR_LOW, ZZHANG_NR_HIGH, SCORE_DOMAIN, SCORE_TICKS),
    ("QZhou-NR", QZHOU_NR_LOW, QZHOU_NR_HIGH, SCORE_DOMAIN, SCORE_TICKS),
    ("RWatanabe-NR", RWATANABE_NR_LOW, RWATANABE_NR_HIGH, SCORE_DOMAIN, SCORE_TICKS),
    ("OMessai-NR", OMESSAI_NR_LOW, OMESSAI_NR_HIGH, SCORE_DOMAIN, SCORE_TICKS),
    ("YZhang-NR", YZHANG_NR_LOW, YZHANG_NR_HIGH, SCORE_DOMAIN, SCORE_TICKS),
    ("RWatanabe-FR", RWATANABE_FR_LOW, RWATANABE_FR_HIGH, SCORE_DOMAIN, SCORE_TICKS),
    ("XZhou-FR", XZHOU_FR_LOW, XZHOU_FR_HIGH, SCORE_DOMAIN, SCORE_TICKS),
    ("ZZhang-FR", ZZHANG_FR_LOW, ZZHANG_FR_HIGH, SCORE_DOMAIN, SCORE_TICKS),
    ("PCQM", PCQM_LOW, PCQM_HIGH, PCQM_DOMAIN, PCQM_TICKS),
    ("PointSSIM", POINTSSIM_LOW, POINTSSIM_HIGH, SSIM_DOMAIN, SSIM_TICKS),
]

color_scale = alt.Scale(domain=[LOW_LABEL, HIGH_LABEL], range=[BLUE, PINK])
legend_spec = alt.Legend(
    title=None, orient="none", legendX=353, legendY=-89, direction="horizontal",
    fillColor="#f5f5f5", strokeColor="#cfcfcf", cornerRadius=5, padding=11,
    symbolType="circle", symbolSize=85, symbolOpacity=1, symbolStrokeWidth=0,
    symbolOffset=0, columnPadding=37, labelOffset=6, labelLimit=400,
    labelFont=FONT, labelFontSize=23, labelColor=TEXT,
)


def make_panel(title, low, high, domain, ticks, first_col):
    rows = [{"score": x, "MOS": y, "Range": LOW_LABEL} for x, y in low]
    rows += [{"score": x, "MOS": y, "Range": HIGH_LABEL} for x, y in high]
    df = pd.DataFrame(rows)
    if first_col:
        yaxis = alt.Axis(values=MOS_TICKS, title="MOS", labels=True)
    else:
        yaxis = alt.Axis(values=MOS_TICKS, title=None, labels=False)
    return (
        alt.Chart(df)
        .mark_circle(size=20, opacity=0.8)
        .encode(
            x=alt.X("score:Q", scale=alt.Scale(domain=domain, nice=False, zero=False),
                    axis=alt.Axis(values=ticks, format="~g", title=None, labelFlush=False)),
            y=alt.Y("MOS:Q", scale=alt.Scale(domain=MOS_DOMAIN, nice=False, zero=False), axis=yaxis),
            color=alt.Color("Range:N", scale=color_scale, legend=legend_spec),
        )
        .properties(width=251, height=249, title=alt.TitleParams(title))
    )


charts = [make_panel(t, lo, hi, d, tk, i % 5 == 0) for i, (t, lo, hi, d, tk) in enumerate(PANELS)]

chart = (
    alt.concat(*charts, columns=5, spacing={"row": 88, "column": 5.5}, bounds="flush")
    .properties(padding={"left": 2, "top": 0, "right": 2, "bottom": 2}, background="white")
    .configure_view(stroke="#9a9a9a", strokeWidth=1)
    .configure_legend(strokeWidth=2)
    .configure_axis(
        domain=False, grid=True, gridDash=[4, 3], gridColor="#c4c4c4", gridWidth=1,
        ticks=True, tickColor="#8a8a8a", tickSize=5, tickWidth=1,
        labelFont=FONT, labelFontSize=19, labelColor=TEXT, labelPadding=1,
        titleFont=FONT, titleFontSize=21, titleColor=TEXT, titleFontWeight="normal", titlePadding=0,
    )
    .configure_title(font=FONT, fontSize=23, color=TEXT, fontWeight="normal", anchor="middle",
                     offset=2, baseline="alphabetic")
)

chart.save("out.html", embed_options={"renderer": "svg", "actions": False})
